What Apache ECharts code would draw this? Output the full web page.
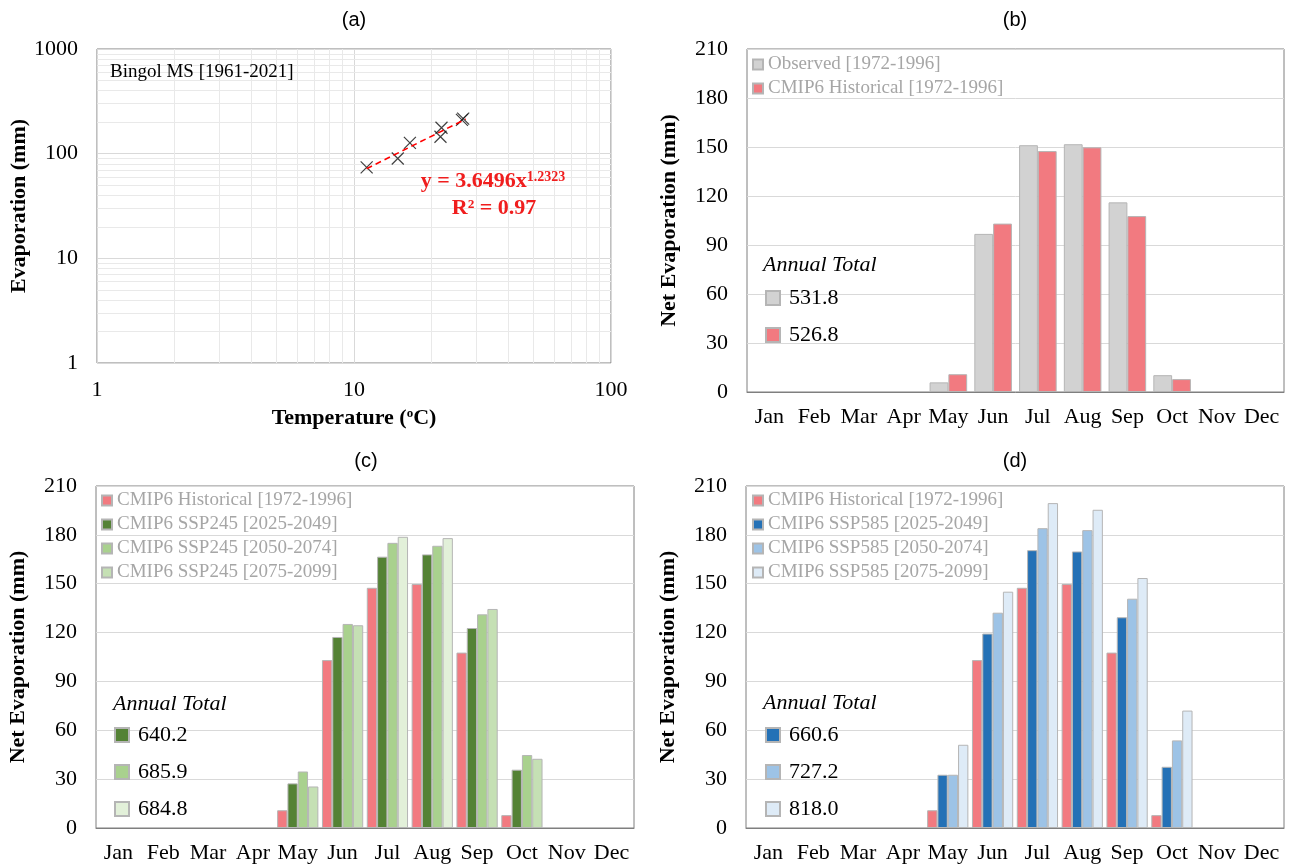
<!DOCTYPE html>
<html><head><meta charset="utf-8">
<script src="https://cdn.jsdelivr.net/npm/echarts@6/dist/echarts.min.js"></script>
<style>html,body{margin:0;padding:0;background:#fff}#c{width:1290px;height:865px}</style>
</head><body><div id="c"></div>
<script>
// ---------- DATA ----------
const months = ['Jan','Feb','Mar','Apr','May','Jun','Jul','Aug','Sep','Oct','Nov','Dec'];
// Panel (a): monthly temperature vs evaporation, Bingol MS
const tempC  = [11.2, 14.8, 16.5, 21.7, 21.9, 26.3, 26.6];
const evapMm = [74, 90, 127, 145, 177, 210, 216];
const trendT = [11.2, 27.2];
const trendE = [71.8, 214];
const logXTicks = [1, 10, 100];
const logYTicks = [1, 10, 100, 1000];
// Panel (b)
const observed  = [0,0,0,0,5.9,96.8,151.1,151.7,116.1,10.3,0,0];
const histCmip6 = [0,0,0,0,10.9,103.1,147.5,149.8,107.7,7.9,0,0];
// Panel (c)
const ssp245_2025 = [0,0,0,0,27.4,117.3,166.6,168.0,122.8,35.8,0,0];
const ssp245_2050 = [0,0,0,0,34.7,125.3,175.1,173.3,131.2,44.8,0,0];
const ssp245_2075 = [0,0,0,0,25.5,124.5,178.8,178.0,134.5,42.5,0,0];
// Panel (d)
const ssp585_2025 = [0,0,0,0,32.7,119.4,170.6,169.8,129.4,37.6,0,0];
const ssp585_2050 = [0,0,0,0,32.7,132.2,184.1,182.9,140.8,53.8,0,0];
const ssp585_2075 = [0,0,0,0,51.1,145.1,199.5,195.4,153.5,72.1,0,0];
// Annual totals
const totalsB = [531.8, 526.8];
const totalsC = [640.2, 685.9, 684.8];
const totalsD = [660.6, 727.2, 818.0];

// ---------- NAMES & STYLES ----------
const nObs  = 'Observed [1972-1996]';
const nHist = 'CMIP6 Historical [1972-1996]';
const nC = ['CMIP6 SSP245 [2025-2049]','CMIP6 SSP245 [2050-2074]','CMIP6 SSP245 [2075-2099]'];
const nD = ['CMIP6 SSP585 [2025-2049]','CMIP6 SSP585 [2050-2074]','CMIP6 SSP585 [2075-2099]'];
const SERIF = '"Liberation Serif", "Times New Roman", serif';
const SANS = '"Liberation Sans", Arial, sans-serif';
const cObs = '#d2d2d2', cHist = '#f27a80';
const cGreen = ['#548235', '#a9d18e', '#c5e0b4'];
const cGreenPale = '#e2f0d9';
const palePaleMonths = ['Jul','Aug'];
const cBlue = ['#2471b6', '#9dc3e6', '#deebf7'];
const barBorder = '#b5b5b5';

const totalMap = {};
[[nObs,nHist],nC,nD].forEach((names,i)=>{
  const t=[totalsB,totalsC,totalsD][i];
  names.forEach((n,j)=>{ totalMap[n+'#'+i]=t[j]; });
});

const grids = [
  {left:97, top:49, width:514, height:314},
  {left:747, top:49, width:537, height:343},
  {left:96, top:486, width:538, height:342},
  {left:746, top:486, width:538, height:342}
];
grids.forEach(g=>{ g.show=true; g.borderColor='#7f7f7f'; g.borderWidth=1; g.backgroundColor='transparent'; });

const lbl = {fontFamily:SERIF, fontSize:22, color:'#000'};
const nameStyle = {fontFamily:SERIF, fontSize:22, fontWeight:'bold', color:'#000'};
const plain = v => String(v);

const xAxes = [{
  gridIndex:0, type:'log', logBase:10, min:logXTicks[0], max:logXTicks[logXTicks.length-1],
  axisLine:{show:false}, axisTick:{show:false},
  axisLabel:Object.assign({margin:16, formatter:plain}, lbl),
  splitLine:{show:true, lineStyle:{color:'#d9d9d9', width:1}},
  name:'Temperature ({s|o}C)', nameLocation:'middle', nameGap:44,
  nameTextStyle:Object.assign({rich:{s:{fontFamily:SERIF, fontSize:13, fontWeight:'bold', color:'#000', verticalAlign:'top', padding:[0,0,8,0]}}}, nameStyle)
}];
const yAxes = [{
  gridIndex:0, type:'log', logBase:10, min:logYTicks[0], max:logYTicks[logYTicks.length-1],
  axisLine:{show:false}, axisTick:{show:false},
  axisLabel:Object.assign({margin:19, formatter:plain}, lbl),
  splitLine:{show:true, lineStyle:{color:'#d9d9d9', width:1}},
  name:'Evaporation (mm)', nameLocation:'middle', nameGap:65, nameTextStyle:nameStyle
}];
for (let gi=1; gi<4; gi++){
  xAxes.push({gridIndex:gi, type:'category', data:months,
    axisLine:{show:true, lineStyle:{color:'#7f7f7f', width:1}}, axisTick:{show:false},
    axisLabel:Object.assign({interval:0, margin:14}, lbl)});
  yAxes.push({gridIndex:gi, type:'value', min:0, max:210, interval:30,
    axisLine:{show:false}, axisTick:{show:false},
    axisLabel:Object.assign({margin:19}, lbl),
    splitLine:{show:true, lineStyle:{color:'#d9d9d9', width:1}},
    name:'Net Evaporation (mm)', nameLocation:'middle', nameGap:67, nameTextStyle:nameStyle});
}

function bar(name, data, gi, color, gap, paleColor){
  return {
    name:name, type:'bar', xAxisIndex:gi, yAxisIndex:gi,
    barGap:'0%', barCategoryGap:gap,
    itemStyle:{color:color, borderColor:barBorder, borderWidth:1},
    data:data.map((v,i)=>{
      if (v===0) return null;
      if (paleColor && palePaleMonths.indexOf(months[i])>=0) return {value:v, itemStyle:{color:paleColor}};
      return v;
    })
  };
}

// minor log gridlines via markLine on the log axes
const minorX = [], minorY = [];
for (let d=1; d<100; d*=10) for (let k=2;k<10;k++) minorX.push({xAxis:k*d});
for (let d=1; d<1000; d*=10) for (let k=2;k<10;k++) minorY.push({yAxis:k*d});

const series = [
  {type:'scatter', name:'pts', xAxisIndex:0, yAxisIndex:0,
   data:tempC.map((t,i)=>[t, evapMm[i]]),
   symbol:'path://M0,0L10,10M10,0L0,10', symbolSize:12,
   itemStyle:{color:'transparent', borderColor:'#111', borderWidth:1.2}, z:5,
   markLine:{silent:true, symbol:['none','none'], label:{show:false},
     lineStyle:{color:'#e9e9e9', type:'solid', width:1}, animation:false, z:1,
     data:minorX.concat(minorY)}},
  {type:'line', name:'trend', xAxisIndex:0, yAxisIndex:0, showSymbol:false, symbol:'none',
   data:trendT.map((t,i)=>[t, trendE[i]]),
   lineStyle:{color:'#ff0000', width:1.6, type:[6,4]}, z:6},
  bar(nObs, observed, 1, cObs, '16%'),
  bar(nHist, histCmip6, 1, cHist, '16%'),
  bar(nHist, histCmip6, 2, cHist, '8%'),
  bar(nC[0], ssp245_2025, 2, cGreen[0], '8%'),
  bar(nC[1], ssp245_2050, 2, cGreen[1], '8%'),
  bar(nC[2], ssp245_2075, 2, cGreen[2], '8%', cGreenPale),
  bar(nHist, histCmip6, 3, cHist, '8%'),
  bar(nD[0], ssp585_2025, 3, cBlue[0], '8%'),
  bar(nD[1], ssp585_2050, 3, cBlue[1], '8%'),
  bar(nD[2], ssp585_2075, 3, cBlue[2], '8%')
];

const legTxt = {fontFamily:SERIF, fontSize:19, color:'#a6a6a6'};
const totTxt = {fontFamily:SERIF, fontSize:22, color:'#000', padding:[0,0,0,4]};
function seriesLegend(names, left, top){
  return {data:names, left:left, top:top, orient:'vertical', icon:'rect', itemWidth:10, itemHeight:10,
    itemGap:5, padding:0, textStyle:legTxt, selectedMode:false};
}
function totalsLegend(names, panel, left, top, overrides){
  return {data:names.map((n,i)=>{ const o={name:n}; if (overrides && overrides[i]) o.itemStyle={color:overrides[i]}; return o; }),
    left:left, top:top, orient:'vertical', icon:'rect', itemWidth:14, itemHeight:14,
    itemGap:15, padding:0, textStyle:totTxt, selectedMode:false,
    formatter:n=>totalMap[n+'#'+panel].toFixed(1)};
}

const legends = [
  seriesLegend([nObs, nHist], 752, 55),
  seriesLegend([nHist].concat(nC), 101, 491),
  seriesLegend([nHist].concat(nD), 752, 491),
  totalsLegend([nObs, nHist], 0, 765, 287),
  totalsLegend(nC, 1, 114, 724, [null, null, cGreenPale]),
  totalsLegend(nD, 2, 765, 724)
];

function txt(x, y, text, font, color, align){
  return {type:'text', x:x, y:y, silent:true, z:100,
    style:{text:text, font:font, fill:color||'#000', align:align||'center', verticalAlign:'middle'}};
}
const graphics = [
  txt(354, 20, '(a)', '20px '+SANS),
  txt(1015, 20, '(b)', '20px '+SANS),
  txt(366, 461, '(c)', '20px '+SANS),
  txt(1015, 461, '(d)', '20px '+SANS),
  txt(110, 72, 'Bingol MS [1961-2021]', '19px '+SERIF, '#000', 'left'),
  txt(763, 265, 'Annual Total', 'italic 22px '+SERIF, '#000', 'left'),
  txt(113, 704, 'Annual Total', 'italic 22px '+SERIF, '#000', 'left'),
  txt(763, 703, 'Annual Total', 'italic 22px '+SERIF, '#000', 'left'),
  {type:'text', x:493, y:181, silent:true, z:100, style:{
    text:'{a|y = 3.6496x}{s|1.2323}', align:'center', verticalAlign:'middle',
    rich:{a:{fontFamily:SERIF, fontSize:22, fontWeight:'bold', fill:'#f01e1e'},
          s:{fontFamily:SERIF, fontSize:14, fontWeight:'bold', fill:'#f01e1e', verticalAlign:'top'}}}},
  txt(494, 208, 'R² = 0.97', 'bold 22px '+SERIF, '#f01e1e')
];

const chart = echarts.init(document.getElementById('c'), null, {renderer:'canvas'});
chart.setOption({
  animation:false,
  backgroundColor:'#fff',
  grid:grids, xAxis:xAxes, yAxis:yAxes, legend:legends, series:series, graphic:graphics
});
</script></body></html>
